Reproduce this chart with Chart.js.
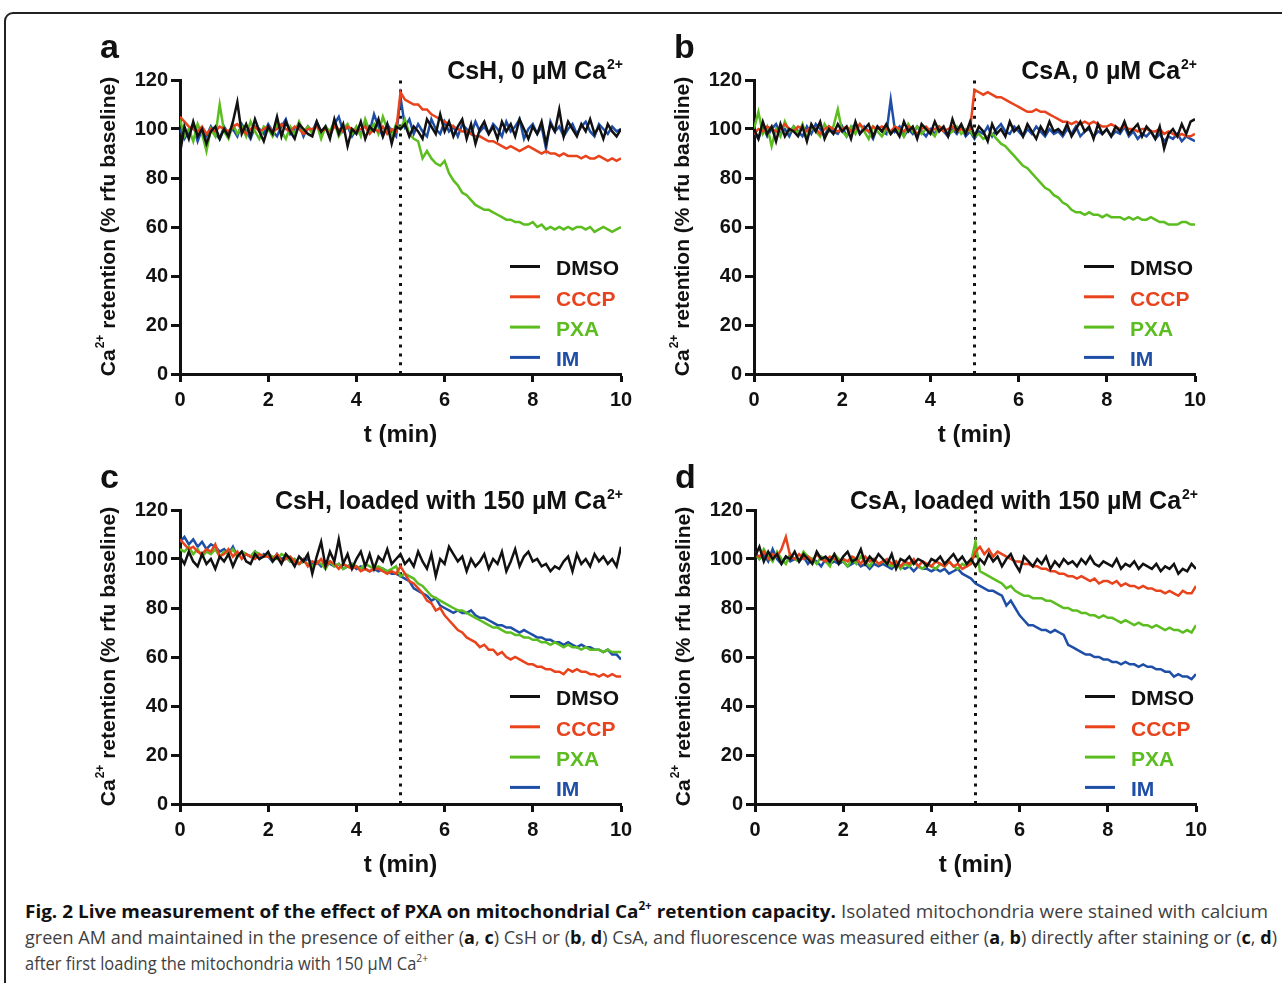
<!DOCTYPE html>
<html>
<head>
<meta charset="utf-8">
<script src="https://cdn.jsdelivr.net/npm/chart.js@4.4.1/dist/chart.umd.min.js"></script>
<style>
  html, body { margin: 0; padding: 0; background: #fff; }
  #page { position: relative; width: 1282px; height: 983px; overflow: hidden; background: #fff; }
  #frame { position: absolute; left: 4px; top: 12px; width: 1400px; height: 1100px;
           border: 2px solid #222; border-top-left-radius: 9px; box-sizing: border-box; }
  canvas { position: absolute; }
  #caption { position: absolute; left: 25px; top: 898px; font-family: "Open Sans", "Noto Sans", sans-serif;
             font-size: 18.5px; line-height: 26px; color: #3f3f3f; }
  .cl { white-space: nowrap; }
  .cl span.in { display: inline-block; transform-origin: 0 50%; }
  .cl b { color: #111; }
  .cl sup { font-size: 11.5px; line-height: 0; position: relative; top: -1px; }
</style>
</head>
<body>
<div id="page">
  <div id="frame"></div>
  <canvas id="pa" width="550" height="420" style="left:90px;top:30px"></canvas>
  <canvas id="pb" width="550" height="420" style="left:664px;top:30px"></canvas>
  <canvas id="pc" width="550" height="420" style="left:90px;top:460px"></canvas>
  <canvas id="pd" width="550" height="420" style="left:665px;top:460px"></canvas>
  <div id="caption">
    <div class="cl" data-w="1243"><span class="in"><b>Fig. 2 Live measurement of the effect of PXA on mitochondrial Ca<sup>2+</sup> retention capacity.</b> Isolated mitochondria were stained with calcium</span></div>
    <div class="cl" data-w="1252"><span class="in">green AM and maintained in the presence of either (<b>a</b>, <b>c</b>) CsH or (<b>b</b>, <b>d</b>) CsA, and fluorescence was measured either (<b>a</b>, <b>b</b>) directly after staining or (<b>c</b>, <b>d</b>)</span></div>
    <div class="cl" data-w="403"><span class="in">after first loading the mitochondria with 150 µM Ca<sup>2+</sup></span></div>
  </div>
</div>
<script>
// time axis, one reading every 0.1 min
const tMin = Array.from({ length: 101 }, (_, i) => i / 10);

const seriesNames = ['DMSO', 'CCCP', 'PXA', 'IM'];
const seriesColors = ['#111111', '#e8431c', '#5bbd1f', '#1f4ea6'];
const xTicks = [0, 2, 4, 6, 8, 10];
const yTicks = [0, 20, 40, 60, 80, 100, 120];
const markerTime = 5;

// panel a: CsH, 0 uM Ca2+
const aDMSO = [90,101,96,103,97,100,94,99,101,96, 100,97,103,111,98,102,97,104,99,95, 101,98,105,97,103,99,96,102,100,98,
  97,103,99,101,96,104,98,102,93,100, 98,103,96,101,99,104,97,102,94,101, 100,102,97,101,99,96,104,101,98,106,
  99,103,97,101,104,96,102,94,100,103, 98,101,96,103,99,102,97,104,100,96, 101,98,103,94,102,99,108,97,103,100,
  97,102,99,104,98,101,96,102,99,97, 100];
const aCCCP = [105,103,101,100,99,101,98,100,99,101, 100,99,101,102,100,98,100,101,99,100, 101,99,100,102,100,99,101,100,98,100,
  100,101,99,100,98,101,100,99,101,100, 99,100,101,98,100,99,101,98,100,99, 115,112,111,110,110,108,108,106,105,104,
  103,102,101,100,99,99,98,97,97,96, 95,95,94,93,92,93,92,91,92,93, 92,91,90,91,90,90,89,90,89,89,
  89,88,89,88,88,89,88,87,88,87, 88];
const aPXA = [104,97,100,95,102,98,91,100,97,110, 99,96,102,98,101,97,103,99,96,101, 100,97,102,99,96,101,98,103,99,101,
  98,102,96,101,99,103,97,100,102,98, 101,97,104,99,102,98,105,100,97,102, 100,104,98,96,95,88,91,88,86,85,
  87,82,79,77,74,73,71,69,68,67, 67,66,65,64,63,63,62,62,61,61, 62,60,61,59,60,59,60,59,60,59,
  60,60,59,60,58,59,60,59,58,59, 60];
const aIM = [100,96,99,102,95,100,97,101,98,96, 101,98,100,97,102,99,96,101,100,98, 102,99,97,101,104,98,100,102,97,101,
  99,103,98,101,97,102,105,99,101,97, 100,98,103,99,106,101,97,102,99,97, 113,101,104,98,102,99,97,104,100,98,
  103,99,101,97,102,100,98,103,99,101, 98,102,100,97,103,99,101,104,96,100, 102,98,101,92,103,99,101,97,100,102,
  98,101,103,99,97,102,100,98,101,99, 100];

// panel b: CsA, 0 uM Ca2+
const bDMSO = [100,96,103,98,101,95,102,97,100,99, 97,101,95,102,99,103,96,100,98,102, 99,101,96,103,98,100,102,97,101,99,
  102,98,100,97,103,99,101,96,102,100, 98,103,99,101,97,104,99,102,98,103, 97,101,99,95,102,98,100,97,103,99,
  101,97,102,99,96,101,98,103,99,100, 98,102,97,100,103,99,101,96,102,98, 100,97,101,99,103,98,100,102,97,101,
  99,96,101,92,98,100,97,102,98,103, 104];
const bCCCP = [98,100,99,101,100,99,100,102,100,99, 101,100,99,101,100,98,100,101,100,99, 100,101,99,100,102,100,99,101,100,101,
  100,99,101,100,99,101,100,98,100,101, 99,100,101,99,100,101,99,100,99,100, 116,115,114,115,114,113,113,112,111,110,
  109,108,107,107,108,107,107,106,105,104, 103,103,102,103,102,103,102,103,102,101, 101,102,101,100,101,100,100,99,100,100,
  99,99,100,98,99,98,97,98,97,97, 98];
const bPXA = [100,107,98,101,93,100,97,103,99,101, 98,102,96,101,99,97,102,99,101,108, 99,97,101,98,102,99,96,101,99,97,
  100,98,101,99,97,102,99,101,98,100, 99,97,101,100,98,99,101,98,100,99, 97,98,96,97,98,96,94,93,91,89,
  87,85,84,82,80,78,76,75,73,72, 70,69,67,66,66,65,66,65,65,64, 65,64,64,64,63,64,63,64,63,63,
  64,63,62,62,61,61,61,62,62,61, 61];
const bIM = [99,96,101,97,100,102,98,100,97,101, 99,97,101,98,102,100,97,101,99,98, 101,97,100,102,98,101,99,96,101,99,
  98,112,99,101,97,100,98,101,99,97, 100,98,101,99,97,100,98,101,97,99, 96,99,98,101,97,100,102,99,98,101,
  99,97,100,98,101,99,97,100,98,99, 97,100,98,101,97,99,100,97,99,98, 100,97,99,98,101,97,99,96,98,97,
  99,96,98,95,97,96,98,95,97,96, 95];

// panel c: CsH, loaded with 150 uM Ca2+
const cDMSO = [101,98,103,99,97,102,98,100,96,101, 99,102,97,101,103,99,98,102,100,101, 103,99,101,98,102,100,97,101,99,102,
  94,101,107,97,103,99,108,98,102,96, 100,103,97,102,96,101,99,104,98,100, 102,98,100,97,103,99,96,102,93,100,
  98,105,102,99,101,95,100,97,99,102, 96,100,98,103,95,99,104,97,101,103, 99,100,97,98,95,97,96,99,101,95,
  102,98,100,97,102,99,101,98,100,97, 105];
const cCCCP = [108,106,104,105,103,102,104,103,106,101, 102,104,101,103,100,102,101,100,102,101, 101,100,102,99,100,101,99,98,100,97,
  99,98,100,97,99,98,96,98,97,96, 97,95,96,95,96,96,95,94,95,94, 97,94,91,90,88,86,83,82,79,80,
  77,75,73,71,70,68,67,66,64,65, 63,63,61,62,60,59,60,59,58,57, 57,56,56,55,55,54,54,53,55,54,
  55,54,54,53,53,52,53,52,53,52, 52];
const cPXA = [104,103,105,102,104,101,103,102,104,101, 103,102,104,101,103,102,101,103,102,101, 102,101,100,102,101,99,100,98,99,98,
  97,99,98,96,99,97,98,96,97,98, 97,96,98,97,96,97,96,95,96,97, 93,94,93,92,90,89,87,85,84,83,
  82,81,80,79,79,78,77,76,75,74, 73,72,72,71,70,70,69,69,68,68, 67,67,66,66,65,66,65,64,65,64,
  64,63,64,63,63,63,62,63,62,62, 62];
const cIM = [107,109,106,108,105,107,104,106,105,103, 104,102,105,101,103,102,101,103,100,102, 101,99,102,100,101,99,100,98,99,100,
  98,99,97,99,98,97,98,96,97,98, 96,97,96,95,96,95,96,95,94,94, 93,92,91,88,87,86,85,83,84,81,
  80,79,78,79,78,78,79,77,76,76, 75,74,73,73,72,72,71,70,71,70, 69,68,68,67,67,66,66,65,66,65,
  64,65,64,64,63,63,62,63,61,61, 59];

// panel d: CsA, loaded with 150 uM Ca2+
const dDMSO = [101,105,99,103,100,102,98,101,100,103, 99,102,100,98,103,100,101,99,102,98, 101,103,99,100,104,98,101,99,102,100,
  98,102,96,100,99,101,98,100,99,97, 100,99,101,98,100,102,99,101,98,100, 97,100,98,102,99,101,97,100,102,98,
  95,101,99,97,100,98,101,96,99,97, 100,98,99,97,100,98,101,98,97,99, 98,97,100,96,98,97,99,96,98,97,
  96,98,95,97,96,98,94,96,95,98, 96];
const dCCCP = [102,101,103,100,102,101,104,109,101,100, 102,100,101,99,102,100,99,101,100,99, 100,99,101,100,98,101,99,100,98,99,
  100,98,99,97,99,98,100,97,99,98, 97,99,98,97,99,97,98,96,97,98, 103,105,102,104,101,103,102,101,100,99,
  99,98,98,97,97,96,96,95,95,94, 94,93,93,92,93,92,91,92,90,91, 91,90,91,89,90,89,89,88,89,88,
  88,87,87,86,87,86,85,87,86,86, 89];
const dPXA = [102,100,104,101,99,103,100,98,102,100, 99,103,101,100,98,101,99,97,102,100, 99,97,100,98,101,99,97,100,98,99,
  98,97,99,96,98,97,99,97,96,98, 97,96,98,97,99,97,96,98,97,99, 107,95,94,93,92,91,90,88,89,87,
  86,85,85,84,84,84,83,83,82,81, 80,80,79,79,78,78,77,77,76,77, 76,76,75,74,75,74,73,74,73,73,
  72,73,72,71,72,71,71,70,71,70, 73];
const dIM = [103,100,102,99,104,100,98,101,99,100, 99,101,98,100,99,97,100,98,99,98, 99,97,98,99,97,98,96,98,97,98,
  97,96,98,97,96,97,95,97,96,96, 95,96,95,96,94,95,96,94,93,92, 90,89,88,87,87,86,85,81,83,80,
  77,75,73,73,72,71,71,70,71,70, 69,65,64,63,62,61,61,60,60,59, 59,58,58,57,58,57,57,56,57,56,
  56,55,55,54,54,52,53,52,52,51, 53];

const FONT = '"Liberation Sans", Arial, Helvetica, sans-serif';

// letters, titles, axis titles and the in-plot legend
const panelDecor = {
  id: 'panelDecor',
  afterDraw(chart, args, opts) {
    const { ctx, chartArea: a } = chart;
    ctx.save();
    ctx.fillStyle = '#111';
    ctx.textBaseline = 'alphabetic';
    ctx.textAlign = 'left';

    ctx.font = 'bold 34px ' + FONT;
    ctx.fillText(opts.letter, a.left - 80, a.top - 22);

    ctx.font = 'bold 25px ' + FONT;
    const wMain = ctx.measureText(opts.title).width;
    ctx.font = 'bold 14px ' + FONT;
    const wSup = ctx.measureText('2+').width;
    const tx = a.right + 2 - wMain - wSup - 1;
    ctx.font = 'bold 25px ' + FONT;
    ctx.fillText(opts.title, tx, a.top - 1);
    ctx.font = 'bold 14px ' + FONT;
    ctx.fillText('2+', tx + wMain + 1, a.top - 11);

    ctx.font = 'bold 24px ' + FONT;
    ctx.textAlign = 'center';
    ctx.textBaseline = 'middle';
    ctx.fillText('t (min)', (a.left + a.right) / 2, a.bottom + 61);

    // rotated y title with superscript
    ctx.save();
    ctx.translate(a.left - 72, (a.top + a.bottom) / 2);
    ctx.rotate(-Math.PI / 2);
    ctx.textAlign = 'left';
    ctx.textBaseline = 'middle';
    const rest = ' retention (% rfu baseline)';
    ctx.font = 'bold 21px ' + FONT;
    const w1 = ctx.measureText('Ca').width;
    const w3 = ctx.measureText(rest).width;
    ctx.font = 'bold 12px ' + FONT;
    const w2 = ctx.measureText('2+').width;
    let x = -(w1 + w2 + w3) / 2;
    ctx.font = 'bold 21px ' + FONT;
    ctx.fillText('Ca', x, 1);
    ctx.font = 'bold 12px ' + FONT;
    ctx.fillText('2+', x + w1 + 1, -7);
    ctx.font = 'bold 21px ' + FONT;
    ctx.fillText(rest, x + w1 + w2 + 1, 1);
    ctx.restore();

    // legend from the datasets
    const items = chart.data.datasets.filter(d => !d.isMarker);
    ctx.font = 'bold 21px ' + FONT;
    ctx.textAlign = 'left';
    ctx.textBaseline = 'middle';
    items.forEach((d, i) => {
      const cy = a.bottom - 106 + i * 30.3;
      ctx.strokeStyle = d.borderColor;
      ctx.lineWidth = 3;
      ctx.beginPath();
      ctx.moveTo(a.right - 111, cy - 1.5);
      ctx.lineTo(a.right - 81, cy - 1.5);
      ctx.stroke();
      ctx.fillStyle = d.borderColor;
      ctx.fillText(d.label, a.right - 65, cy + 1.5);
    });
    ctx.restore();
  }
};

function makePanel(id, letter, title, series) {
  const datasets = series.map((vals, k) => ({
    label: seriesNames[k],
    data: vals.map((v, i) => ({ x: tMin[i], y: v })),
    borderColor: seriesColors[k],
    borderWidth: 2.5,
    pointRadius: 0,
    tension: 0
  }));
  datasets.push({
    label: 'addition',
    isMarker: true,
    data: [{ x: markerTime, y: 0 }, { x: markerTime, y: 120 }],
    borderColor: '#111',
    borderWidth: 3,
    borderDash: [3, 5.8],
    pointRadius: 0
  });

  const tickFont = { family: FONT, weight: 'bold', size: 20 };
  new Chart(document.getElementById(id), {
    type: 'line',
    data: { datasets },
    options: {
      responsive: false,
      animation: false,
      layout: { padding: { left: 0, top: 50, right: 19, bottom: 0 } },
      plugins: {
        legend: { display: false },
        tooltip: { enabled: false },
        panelDecor: { letter, title }
      },
      scales: {
        x: {
          type: 'linear', min: 0, max: 10,
          afterBuildTicks: s => { s.ticks = xTicks.map(v => ({ value: v })); },
          afterFit: s => { s.height = 76; },
          border: { display: true, color: '#111', width: 3 },
          grid: { drawOnChartArea: false, drawTicks: true, tickLength: 8, tickWidth: 3, tickColor: '#111' },
          ticks: { font: tickFont, color: '#111', padding: 6, maxRotation: 0 }
        },
        y: {
          min: 0, max: 120,
          afterBuildTicks: s => { s.ticks = yTicks.map(v => ({ value: v })); },
          afterFit: s => { s.width = 90; },
          border: { display: true, color: '#111', width: 3 },
          grid: { drawOnChartArea: false, drawTicks: true, tickLength: 9, tickWidth: 3, tickColor: '#111' },
          ticks: { font: tickFont, color: '#111', padding: 3 }
        }
      }
    },
    plugins: [panelDecor]
  });
}

makePanel('pa', 'a', 'CsH, 0 µM Ca', [aDMSO, aCCCP, aPXA, aIM]);
makePanel('pb', 'b', 'CsA, 0 µM Ca', [bDMSO, bCCCP, bPXA, bIM]);
makePanel('pc', 'c', 'CsH, loaded with 150 µM Ca', [cDMSO, cCCCP, cPXA, cIM]);
makePanel('pd', 'd', 'CsA, loaded with 150 µM Ca', [dDMSO, dCCCP, dPXA, dIM]);

// squeeze caption lines to the widths of the original lines
document.querySelectorAll('.cl').forEach(line => {
  const inner = line.querySelector('.in');
  const target = +line.dataset.w;
  const w = inner.getBoundingClientRect().width;
  if (w > 0) inner.style.transform = `scaleX(${target / w})`;
});
</script>
</body>
</html>
